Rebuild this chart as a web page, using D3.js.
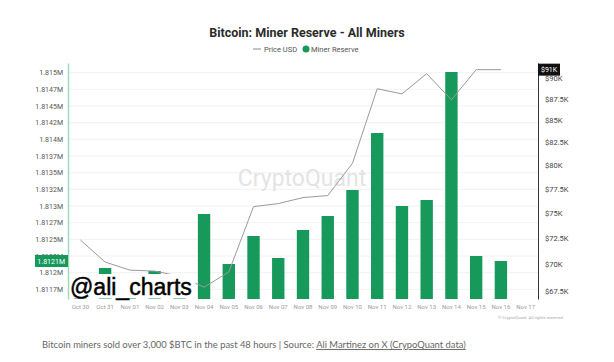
<!DOCTYPE html>
<html>
<head>
<meta charset="utf-8">
<script src="https://cdn.jsdelivr.net/npm/d3@7"></script>
<style>
  body { margin: 0; background: #fff; }
  svg { display: block; }
</style>
</head>
<body>
<svg id="chart" width="614" height="362"></svg>
<script>
// categories (days)
const days = ["Oct 30","Oct 31","Nov 01","Nov 02","Nov 03","Nov 04","Nov 05","Nov 06","Nov 07","Nov 08",
  "Nov 09","Nov 10","Nov 11","Nov 12","Nov 13","Nov 14","Nov 15","Nov 16","Nov 17"];

// miner reserve, BTC (null = no data)
const reserve = [1811900, 1812070, 1811850, 1812025, 1811880, 1812880, 1812130, 1812550, 1812220, 1812640,
  1812850, 1813240, 1814095, 1813000, 1813090, 1815010, 1812250, 1812175, null];

// price USD (null = no data)
const price = [72330, 70210, 69450, 69360, 68890, 67870, 69270, 75650, 75960, 76580,
  76790, 80200, 88670, 88060, 90490, 87350, 90980, 90980, null];

const leftTicks = [1815000, 1814750, 1814500, 1814250, 1814000, 1813750, 1813500, 1813250, 1813000,
  1812750, 1812500, 1812250, 1812000, 1811750];
const leftTickLabels = ["1.815M","1.8147M","1.8145M","1.8142M","1.814M","1.8137M","1.8135M","1.8132M",
  "1.813M","1.8127M","1.8125M","1.8122M","1.812M","1.8117M"];

const rightTicks = [90000, 87500, 85000, 82500, 80000, 77500, 75000, 72500, 70000, 67500];
const rightTickLabels = ["$90K","$87.5K","$85K","$82.5K","$80K","$77.5K","$75K","$72.5K","$70K","$67.5K"];

const lastReserveLabel = "1.8121M";
const lastPriceLabel = "$91K";

const green = "#16995b";
const plot = {left: 68, right: 538, top: 63, bottom: 299};

const svg = d3.select("#chart");

const x = d3.scaleBand().domain(days).range([plot.left, plot.right]).paddingInner(0.5).paddingOuter(0.25);
const yL = d3.scaleLinear().domain([1811605, 1815145]).range([plot.bottom, plot.top]);
const yR = d3.scaleLog().domain([66800, 91800]).range([plot.bottom, plot.top]);

// title + legend
svg.append("text")
  .attr("x", 307).attr("y", 37)
  .attr("text-anchor", "middle")
  .style("font-family", "Roboto, sans-serif").style("font-weight", 700).style("font-size", "12.5px")
  .style("fill", "#2b2b2b")
  .text("Bitcoin: Miner Reserve - All Miners");

const legend = svg.append("g").style("font-family", "Roboto, sans-serif").style("font-size", "7.5px").style("fill", "#555");
legend.append("line").attr("x1", 253).attr("x2", 261).attr("y1", 49).attr("y2", 49).style("stroke", "#888").style("stroke-width", 1);
legend.append("text").attr("x", 264).attr("y", 51.5).text("Price USD");
legend.append("circle").attr("cx", 306).attr("cy", 49).attr("r", 3.5).style("fill", green);
legend.append("text").attr("x", 311).attr("y", 51.5).text("Miner Reserve");

// gridlines
svg.append("g").selectAll("line")
  .data(leftTicks)
  .join("line")
  .attr("x1", plot.left).attr("x2", plot.right)
  .attr("y1", d => yL(d)).attr("y2", d => yL(d))
  .style("stroke", "#f2f2f2").style("stroke-width", 1);

// watermark
svg.append("text")
  .attr("x", 302).attr("y", 186)
  .attr("text-anchor", "middle")
  .style("font-family", "Roboto, sans-serif").style("font-size", "23px")
  .style("fill", "#e4e4e4")
  .text("CryptoQuant");

// bars
svg.append("g").selectAll("rect")
  .data(days.map((d, i) => ({day: d, v: reserve[i]})).filter(d => d.v !== null))
  .join("rect")
  .attr("x", d => x(d.day))
  .attr("width", x.bandwidth())
  .attr("y", d => yL(d.v))
  .attr("height", d => Math.max(0, plot.bottom - yL(d.v)))
  .style("fill", green);

// price line
const line = d3.line()
  .defined(d => d.v !== null)
  .x(d => x(d.day) + x.bandwidth() / 2)
  .y(d => yR(d.v));
svg.append("path")
  .datum(days.map((d, i) => ({day: d, v: price[i]})))
  .attr("d", line)
  .style("fill", "none").style("stroke", "#9a9a9a").style("stroke-width", 1);

// @ali_charts label over chart
svg.append("rect").attr("x", 68.5).attr("y", 274).attr("width", 127).attr("height", 24.5).style("fill", "#fff");
svg.append("text")
  .attr("x", 70).attr("y", 295)
  .style("font-family", "'Liberation Sans', Arial, sans-serif").style("font-size", "23px")
  .style("fill", "#000").style("stroke", "#000").style("stroke-width", 0.5)
  .text("@ali_charts");

// left axis
const leftAxis = d3.axisLeft(yL).tickValues(leftTicks).tickFormat((d, i) => leftTickLabels[i]).tickSize(0).tickPadding(5);
const gL = svg.append("g").attr("transform", `translate(${plot.left},0)`).call(leftAxis);
gL.select(".domain").style("stroke", "#9fd8bd").style("stroke-width", 1.5);
gL.selectAll("text").style("font-family", "Roboto, sans-serif").style("font-size", "7px").style("fill", "#555");

// right axis
const rightAxis = d3.axisRight(yR).tickValues(rightTicks).tickFormat((d, i) => rightTickLabels[i]).tickSize(0).tickPadding(7);
const gR = svg.append("g").attr("transform", `translate(${plot.right},0)`).call(rightAxis);
gR.select(".domain").style("stroke", "#333").style("stroke-width", 1);
gR.selectAll("text").style("font-family", "Roboto, sans-serif").style("font-size", "7.5px").style("fill", "#444");

// x axis
const xAxis = d3.axisBottom(x).tickSize(0).tickPadding(6);
const gX = svg.append("g").attr("transform", `translate(0,${plot.bottom})`).call(xAxis);
gX.select(".domain").remove();
gX.selectAll("text").style("font-family", "Roboto, sans-serif").style("font-size", "6px").style("fill", "#999");

// last value markers
const lastR = reserve.filter(v => v !== null).slice(-1)[0];
const lastP = price.filter(v => v !== null).slice(-1)[0];
const mL = svg.append("g").attr("transform", `translate(${plot.left},${yL(lastR)})`);
mL.append("rect").attr("x", -33).attr("y", -6).attr("width", 33).attr("height", 12).style("fill", green);
mL.append("text").attr("x", -3).attr("y", 2.5).attr("text-anchor", "end")
  .style("font-family", "Roboto, sans-serif").style("font-size", "7px").style("fill", "#fff").text(lastReserveLabel);

const mR = svg.append("g").attr("transform", `translate(${plot.right},${yR(lastP)})`);
mR.append("rect").attr("x", 0).attr("y", -6).attr("width", 22).attr("height", 12).style("fill", "#111");
mR.append("text").attr("x", 3).attr("y", 2.5)
  .style("font-family", "Roboto, sans-serif").style("font-size", "7px").style("fill", "#fff").text(lastPriceLabel);

// copyright
svg.append("text").attr("x", 563).attr("y", 319).attr("text-anchor", "end")
  .style("font-family", "Roboto, sans-serif").style("font-size", "4.3px").style("fill", "#aaa")
  .text("© CryptoQuant. All rights reserved");

// caption
const cap = svg.append("text").attr("x", 42).attr("y", 348)
  .style("font-family", "Lato, sans-serif").style("font-size", "9.4px").style("fill", "#666");
cap.append("tspan").text("Bitcoin miners sold over 3,000 $BTC in the past 48 hours | Source: ");
cap.append("tspan").style("text-decoration", "underline").text("Ali Martinez on X (CrypoQuant data)");
</script>
</body>
</html>
